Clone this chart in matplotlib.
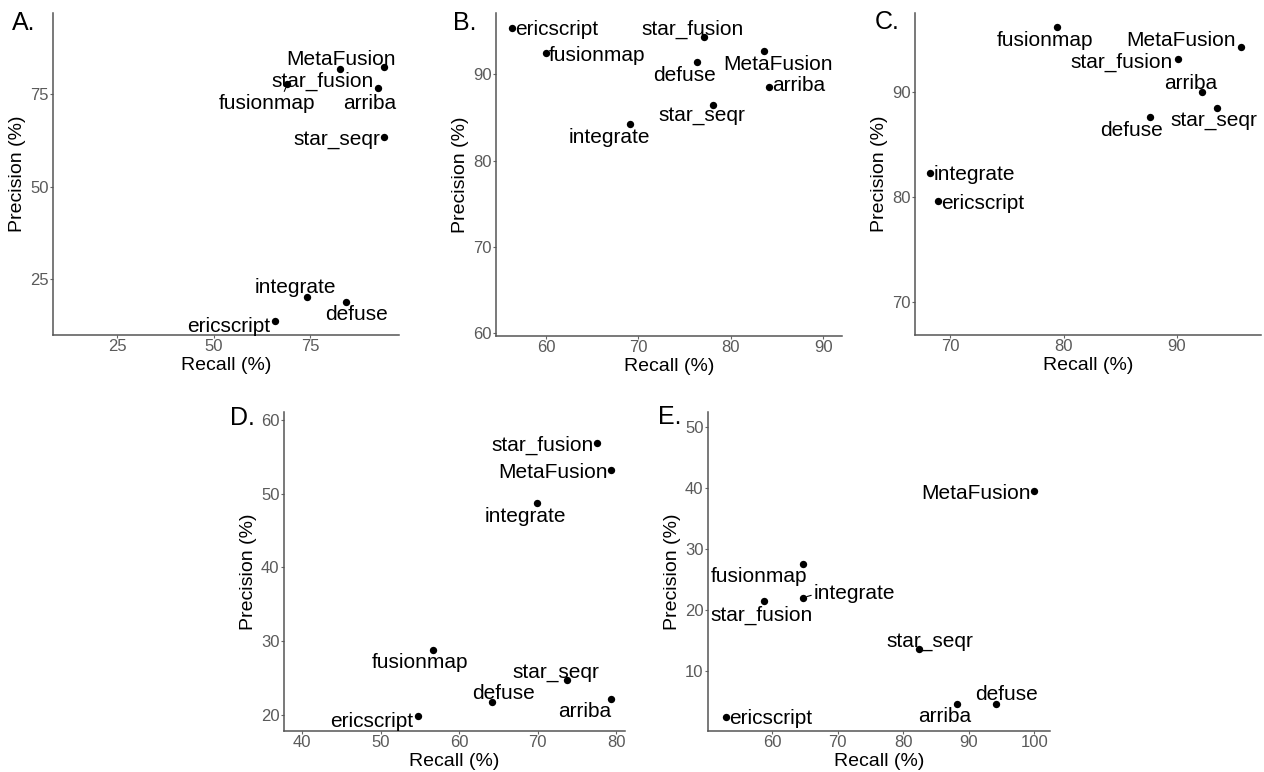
import matplotlib
matplotlib.use("Agg")
import matplotlib.pyplot as plt

plt.rcParams['font.family'] = ['Liberation Sans', 'DejaVu Sans']

tools = ["MetaFusion", "star_fusion", "fusionmap", "arriba", "star_seqr", "integrate", "defuse", "ericscript"]

A_recall = [94.2, 82.6, 69.1, 92.5, 94.2, 74.3, 84.3, 65.9]
A_precision = [82.5, 81.9, 77.8, 76.6, 63.4, 20.0, 18.7, 13.7]

B_recall = [83.6, 77.1, 60.0, 84.1, 78.1, 69.1, 76.3, 56.3]
B_precision = [92.7, 94.3, 92.5, 88.5, 86.5, 84.2, 91.4, 95.4]

C_recall = [95.6, 90.05, 79.4, 92.2, 93.5, 68.2, 87.6, 68.9]
C_precision = [94.3, 93.1, 96.2, 90.0, 88.5, 82.3, 87.6, 79.6]

D_recall = [79.3, 77.5, 56.6, 79.3, 73.7, 69.9, 64.2, 54.7]
D_precision = [53.2, 56.9, 28.8, 22.1, 24.7, 48.7, 21.7, 19.8]

E_recall = [100.0, 58.8, 64.7, 88.2, 82.4, 64.7, 94.1, 53.0]
E_precision = [39.5, 21.4, 27.5, 4.6, 13.6, 22.0, 4.7, 2.5]

panel_letters = ["A.", "B.", "C.", "D.", "E."]

W, H = 1264, 772
fig = plt.figure(figsize=(W / 100, H / 100), dpi=100)

# layout: (left, right, top, bottom) in pixels
layout = [
    (53, 399, 13, 335),
    (496, 842, 13, 336),
    (915, 1261, 13, 335),
    (284, 625, 412, 731),
    (708, 1050, 412, 731),
]
xlims = [(8.4, 98), (54.6, 92.0), (66.9, 97.4), (37.7, 81.1), (50.25, 102.4)]
ylims = [(9.8, 97), (59.7, 97.1), (66.9, 97.5), (17.8, 61.1), (0.2, 52.4)]
xticks = [[25, 50, 75], [60, 70, 80, 90], [70, 80, 90], [40, 50, 60, 70, 80], [60, 70, 80, 90, 100]]
yticks = [[25, 50, 75], [60, 70, 80, 90], [70, 80, 90], [20, 30, 40, 50, 60], [10, 20, 30, 40, 50]]

# label offsets in pixels (dx, dy) of label centre/baseline relative to point
offsets = [
    {"MetaFusion": (-43, 1.7), "star_fusion": (-17, -18.3), "fusionmap": (-20.7, -25.3),
     "arriba": (-8.3, -21), "star_seqr": (-47.7, -8), "integrate": (-12.3, 4),
     "defuse": (10.7, -17.7), "ericscript": (-46, -11)},
    {"ericscript": (45, -7.7), "fusionmap": (51.3, -8.7), "star_fusion": (-12, 2.7),
     "defuse": (-12, -18.7), "MetaFusion": (13.7, -18.7), "arriba": (30, -4),
     "star_seqr": (-12, -16.7), "integrate": (-20.3, -18.3)},
    {"fusionmap": (-11.7, -19), "MetaFusion": (-59.7, 0.7), "star_fusion": (-56, -8.3),
     "arriba": (-11, 3), "star_seqr": (-2.7, -18.3), "defuse": (-18, -18.7),
     "integrate": (44.7, -7.3), "ericscript": (45.3, -7.7)},
    {"star_fusion": (-54.3, -7.7), "MetaFusion": (-58.3, -8), "integrate": (-12, -18.3),
     "fusionmap": (-12, -18), "star_seqr": (-11, 2.7), "defuse": (11.3, 3.3),
     "arriba": (-25.7, -17.7), "ericscript": (-45.7, -10.7)},
    {"MetaFusion": (-58, -8), "fusionmap": (-44, -17.7), "integrate": (52, -1.3),
     "star_fusion": (-2.3, -19), "star_seqr": (10.7, 2.7), "defuse": (10.7, 4),
     "arriba": (-12, -17.7), "ericscript": (44.3, -6.7)},
]
segments = [{"fusionmap": (0.67, 1.0)}, {}, {}, {}, {"integrate": (0.0, 0.45)}]

letter_pos = [(12, 30), (453, 30), (875, 29), (230, 425), (658, 424)]

data = [(A_recall, A_precision), (B_recall, B_precision), (C_recall, C_precision),
        (D_recall, D_precision), (E_recall, E_precision)]

for i, (rec, prec) in enumerate(data):
    l, r, t, b = layout[i]
    ax = fig.add_axes([l / W, 1 - b / H, (r - l) / W, (b - t) / H])
    ax.scatter(rec, prec, s=28, color="black", zorder=3, linewidths=0)
    ax.set_xlim(*xlims[i])
    ax.set_ylim(*ylims[i])
    ax.set_xticks(xticks[i])
    ax.set_yticks(yticks[i])
    for sp in ["top", "right"]:
        ax.spines[sp].set_visible(False)
    for sp in ["left", "bottom"]:
        ax.spines[sp].set_color("#555555")
        ax.spines[sp].set_linewidth(1.1)
    ax.tick_params(axis="both", direction="out", length=2, width=0.8, color="#666666",
                   labelsize=12, labelcolor="#5A5A5A", pad=1.2)
    ax.set_xlabel("Recall (%)", fontsize=14, color="black", labelpad=1.5)
    ax.set_ylabel("Precision (%)", fontsize=14, color="black", labelpad=3)
    for name, x, y in zip(tools, rec, prec):
        dx, dy = offsets[i][name]
        kw = {}
        if name in segments[i]:
            kw["arrowprops"] = dict(arrowstyle="-", color="black", lw=0.8,
                                    relpos=segments[i][name], shrinkA=0, shrinkB=3)
        ax.annotate(name, xy=(x, y), xytext=(dx, dy), textcoords="offset pixels",
                    ha="center", va="baseline", fontsize=15, color="black", **kw)
    lx, ly = letter_pos[i]
    fig.text(lx / W, 1 - ly / H, panel_letters[i], fontsize=18, color="black",
             ha="left", va="baseline")

fig.savefig("out.png", dpi=100, facecolor="white")
